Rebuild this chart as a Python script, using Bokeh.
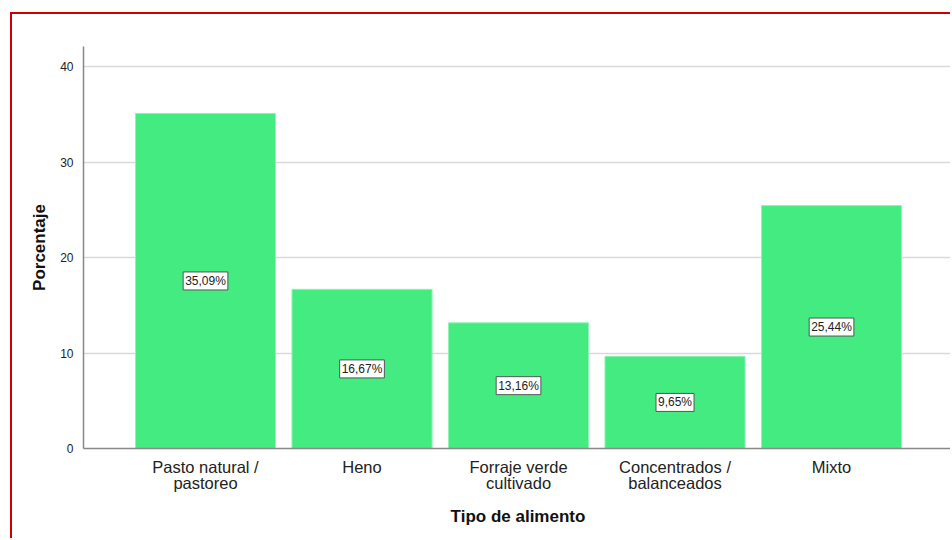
from bokeh.plotting import figure
from bokeh.models import ColumnDataSource, FixedTicker, Range1d
from bokeh.core.properties import value
from bokeh.embed import file_html
from bokeh.resources import INLINE

categories = ["Pasto natural /\npastoreo", "Heno", "Forraje verde\ncultivado",
              "Concentrados /\nbalanceados", "Mixto"]
values = [35.09, 16.67, 13.16, 9.65, 25.44]
labels = ["35,09%", "16,67%", "13,16%", "9,65%", "25,44%"]
y_ticks = [0, 10, 20, 30, 40]

xs = list(range(1, len(categories) + 1))
src = ColumnDataSource(dict(x=xs, top=values, mid=[v / 2 for v in values], lab=labels))

p = figure(width=940, height=526, output_backend="svg", toolbar_location=None,
           x_range=Range1d(0.2204, 5.773), y_range=Range1d(0, 42.1),
           min_border_left=71, min_border_right=0, min_border_top=32, min_border_bottom=92)
p.styles = {"margin-left": "10px", "margin-top": "12px",
            "border-left": "2px solid #cc0000", "border-top": "2px solid #cc0000"}
p.outline_line_color = None

p.vbar(x="x", top="top", width=0.895, source=src, fill_color="#44EB80",
       line_color="#8ff3b3", line_width=1)

p.text(x="x", y="mid", text="lab", source=src, text_align="center",
       text_baseline="middle", text_font=value("Liberation Sans"),
       text_font_size="12px", text_color="#222222",
       background_fill_color="white", border_line_color="#555555",
       border_line_width=1, padding=2)

p.xaxis.ticker = FixedTicker(ticks=xs)
p.xaxis.major_label_overrides = {x: c for x, c in zip(xs, categories)}
p.yaxis.ticker = FixedTicker(ticks=y_ticks)

for ax in (p.xaxis[0], p.yaxis[0]):
    ax.axis_line_color = "#888888"
    ax.axis_line_width = 1.5
    ax.major_tick_line_color = None
    ax.minor_tick_line_color = None
    ax.major_label_text_font = "Liberation Sans"
    ax.axis_label_text_font = "Liberation Sans"
    ax.axis_label_text_font_style = "bold"
    ax.axis_label_text_color = "#111111"
    ax.axis_label_text_font_size = "17px"

p.xaxis.axis_label = "Tipo de alimento"
p.yaxis.axis_label = "Porcentaje"
p.xaxis.major_label_text_font_size = "16.5px"
p.xaxis.major_label_text_line_height = 0.9
p.xaxis.major_label_text_color = "#222222"
p.xaxis.major_label_standoff = 3
p.xaxis.axis_label_standoff = 12
p.yaxis.major_label_text_font_size = "12px"
p.yaxis.major_label_text_color = "#222222"
p.yaxis.major_label_standoff = 4
p.yaxis.axis_label_standoff = 8

p.xgrid.grid_line_color = None
p.ygrid.grid_line_color = "#d9d9d9"
p.ygrid.grid_line_width = 1.5

open("out.html", "w").write(file_html(p, INLINE))
